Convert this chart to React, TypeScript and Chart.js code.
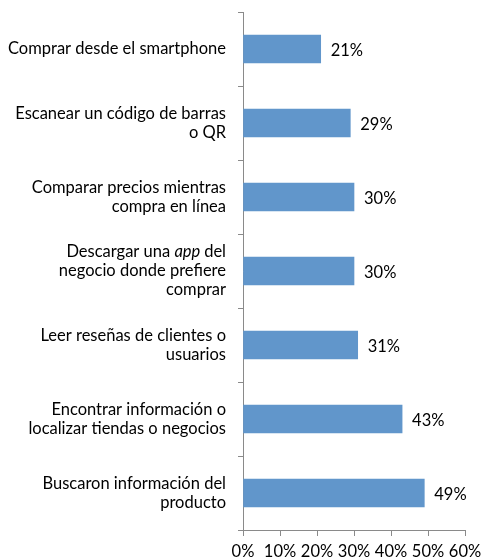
import React, { useEffect, useRef } from "react";
import { Chart, registerables } from "chart.js";

Chart.register(...registerables);

const categories: string[][] = [
  ["Comprar desde el smartphone"],
  ["Escanear un código de barras", "o QR"],
  ["Comparar precios mientras", "compra en línea"],
  ["Descargar una app del", "negocio donde prefiere", "comprar"],
  ["Leer reseñas de clientes o", "usuarios"],
  ["Encontrar información o", "localizar tiendas o negocios"],
  ["Buscaron información del", "producto"],
];
const values: number[] = [21, 29, 30, 30, 31, 43, 49];
const italicWords: string[] = ["app"];
const xTicks: number[] = [0, 10, 20, 30, 40, 50, 60];

const FONT = "Lato, 'Open Sans', sans-serif";
const FS = 16.5;
const TEXT = "#000000";
const BAR = "#6196cb";
const AXIS = "#8a8a8a";

const labelPlugin = {
  id: "customLabels",
  afterDraw(chart: any) {
    const ctx = chart.ctx;
    const yScale = chart.scales.y;
    const meta = chart.getDatasetMeta(0);
    ctx.save();
    ctx.fillStyle = TEXT;
    ctx.textBaseline = "middle";
    const lineH = 19;
    const rightX = yScale.right - 17;
    categories.forEach((lines, i) => {
      const cy = yScale.getPixelForValue(i);
      const startY = cy - ((lines.length - 1) * lineH) / 2;
      lines.forEach((line, li) => {
        const y = startY + li * lineH;
        const words = line.split(" ");
        const segs = words.map((w, wi) => ({
          text: w + (wi < words.length - 1 ? " " : ""),
          italic: italicWords.includes(w),
        }));
        let total = 0;
        segs.forEach((s) => {
          ctx.font = `${s.italic ? "italic " : ""}${FS}px ${FONT}`;
          total += ctx.measureText(s.text).width;
        });
        let x = rightX - total;
        ctx.textAlign = "left";
        segs.forEach((s) => {
          ctx.font = `${s.italic ? "italic " : ""}${FS}px ${FONT}`;
          ctx.fillText(s.text, x, y);
          x += ctx.measureText(s.text).width;
        });
      });
      const bar = meta.data[i];
      ctx.font = `${FS}px ${FONT}`;
      ctx.textAlign = "left";
      ctx.fillText(values[i] + "%", bar.x + 10, bar.y + 2);
    });
    ctx.restore();
  },
};

export default function App() {
  const ref = useRef<HTMLCanvasElement | null>(null);
  useEffect(() => {
    if (!ref.current) return;
    const chart = new Chart(ref.current, {
      type: "bar",
      data: {
        labels: categories.map((l) => l.join(" ")),
        datasets: [
          {
            data: values,
            backgroundColor: BAR,
            borderWidth: 0,
            barThickness: 28,
          },
        ],
      },
      options: {
        indexAxis: "y",
        animation: false,
        responsive: false,
        maintainAspectRatio: false,
        layout: { padding: { top: 12, right: 17, left: 0, bottom: 0 } },
        plugins: {
          legend: { display: false },
          tooltip: { enabled: false },
        },
        scales: {
          x: {
            min: 0,
            max: 60,
            afterBuildTicks: (scale: any) => {
              scale.ticks = xTicks.map((v) => ({ value: v }));
            },
            afterFit: (scale: any) => {
              scale.height = 29;
              scale.paddingLeft = 0;
              scale.paddingRight = 0;
            },
            ticks: {
              callback: (v: any) => v + "%",
              color: TEXT,
              font: { family: FONT, size: FS },
              padding: 6,
              maxRotation: 0,
              autoSkip: false,
            },
            grid: {
              drawOnChartArea: false,
              drawTicks: true,
              tickLength: 6,
              color: AXIS,
            },
            border: { color: AXIS, width: 1 },
          },
          y: {
            ticks: { display: false },
            afterFit: (scale: any) => {
              scale.width = 243;
              scale.paddingTop = 0;
              scale.paddingBottom = 0;
            },
            grid: {
              offset: true,
              drawOnChartArea: false,
              drawTicks: true,
              tickLength: 5,
              color: AXIS,
            },
            border: { color: AXIS, width: 1 },
          },
        },
      },
      plugins: [labelPlugin],
    });
    return () => chart.destroy();
  }, []);
  return (
    <div style={{ position: "fixed", left: 0, top: 0, width: 482, height: 559, background: "#fff" }}>
      <canvas ref={ref} width={482} height={559} style={{ width: 482, height: 559 }} />
    </div>
  );
}
